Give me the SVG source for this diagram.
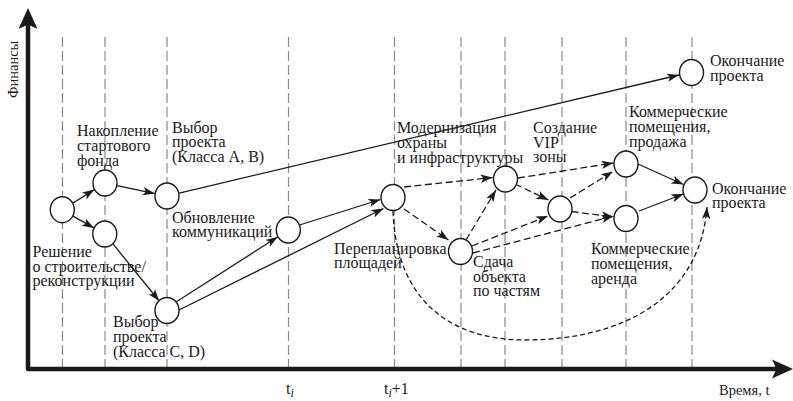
<svg xmlns="http://www.w3.org/2000/svg" width="793" height="401" viewBox="0 0 793 401" font-family="'Liberation Serif', 'Times New Roman', serif">
  <style>
    text { font-family: 'Liberation Serif', 'Times New Roman', serif; font-size: 16px; fill: #1a1a1a; }
    .small { font-size: 14.5px; }
    .grid { stroke: #8a8a8a; stroke-width: 1.2; stroke-dasharray: 10 4; fill: none; }
    .axis { stroke: #1a1a1a; stroke-width: 4.5; fill: none; stroke-linejoin: round; }
    .edge { stroke: #1a1a1a; stroke-width: 1.3; fill: none; marker-end: url(#arrow); }
    .dash { stroke-dasharray: 7 3.5; }
    .curve { stroke-dasharray: 5 3; }
    .node ellipse { fill: #ffffff; stroke: #1a1a1a; stroke-width: 1.4; }
  </style>
  <defs>
    <marker id="arrow" markerUnits="userSpaceOnUse" markerWidth="12" markerHeight="10" viewBox="0 0 12 10" refX="12" refY="5" orient="auto">
      <path d="M0,0.8 L12,5 L0,9.2 L3,5 z" fill="#1a1a1a"/>
    </marker>
  </defs>

  <rect width="793" height="401" fill="#ffffff"/>

  <!-- time grid -->
  <g id="grid">
    <line class="grid" x1="62.5" y1="37" x2="62.5" y2="367"/>
    <line class="grid" x1="105" y1="37" x2="105" y2="367"/>
    <line class="grid" x1="167" y1="37" x2="167" y2="367"/>
    <line class="grid" x1="288.5" y1="37" x2="288.5" y2="367"/>
    <line class="grid" x1="394.5" y1="37" x2="394.5" y2="367"/>
    <line class="grid" x1="461" y1="37" x2="461" y2="367"/>
    <line class="grid" x1="505" y1="37" x2="505" y2="367"/>
    <line class="grid" x1="562" y1="37" x2="562" y2="367"/>
    <line class="grid" x1="626" y1="37" x2="626" y2="367"/>
    <line class="grid" x1="692" y1="37" x2="692" y2="367"/>
  </g>

  <!-- axes -->
  <g id="axes">
    <path class="axis" d="M28,24 L28,369 L778,369"/>
    <path d="M28,8 L37.5,29 L28,24.5 L18.5,29 z" fill="#1a1a1a"/>
    <path d="M793,369 L772,378.5 L776.5,369 L772,359.5 z" fill="#1a1a1a"/>
    <text class="small" transform="translate(17.5,98) rotate(-90)">Финансы</text>
    <text class="small" x="719" y="395">Время, t</text>
    <text x="286" y="394">t<tspan font-style="italic" font-size="12" dy="3">i</tspan></text>
    <text x="384" y="394">t<tspan font-style="italic" font-size="12" dy="3">i</tspan><tspan dy="-3">+1</tspan></text>
  </g>

  <!-- connectors -->
  <g id="connectors">
    <line class="edge" x1="72.6" y1="203.3" x2="94.4" y2="189.6"/>
    <line class="edge" x1="72.9" y1="216.1" x2="94.1" y2="227.9"/>
    <line class="edge" x1="117.2" y1="185.6" x2="154.8" y2="193.6"/>
    <line class="edge" x1="112.8" y1="243.7" x2="159.2" y2="301"/>
    <line class="edge" x1="179.2" y1="193.1" x2="679" y2="75"/>
    <line class="edge" x1="176" y1="302" x2="277.6" y2="237"/>
    <line class="edge" x1="179" y1="310" x2="383.5" y2="208.5"/>
    <line class="edge" x1="299.5" y1="225" x2="380.5" y2="199.5"/>
    <line class="edge dash" x1="404" y1="187" x2="492.5" y2="177.5"/>
    <line class="edge dash" x1="404" y1="209" x2="448.5" y2="240"/>
    <line class="edge dash" x1="466" y1="240" x2="496" y2="190"/>
    <line class="edge dash" x1="472" y1="246" x2="548" y2="216"/>
    <line class="edge dash" x1="473" y1="253" x2="613.5" y2="216"/>
    <line class="edge dash" x1="518" y1="178" x2="613.5" y2="163"/>
    <line class="edge dash" x1="515" y1="184" x2="548.5" y2="200"/>
    <line class="edge dash" x1="570" y1="198" x2="613" y2="171.5"/>
    <line class="edge dash" x1="571.5" y1="211.5" x2="613.5" y2="217"/>
    <line class="edge" x1="638" y1="164" x2="683.5" y2="184.5"/>
    <line class="edge" x1="639" y1="211" x2="683.5" y2="194"/>
    <path class="edge curve" d="M393,211 C396,300 450,340 525,340 C620,340 700,300 707,207"/>
  </g>

  <!-- nodes -->
  <g id="n-decision" class="node">
    <ellipse cx="62.3" cy="209.7" rx="12" ry="13"/>
    <text x="32.5" y="257">Решение</text>
    <text x="32.5" y="271.5">о строительстве/</text>
    <text x="32.5" y="286">реконструкции</text>
  </g>
  <g id="n-fund" class="node">
    <ellipse cx="105" cy="183" rx="12" ry="13"/>
    <text x="77" y="136">Накопление</text>
    <text x="77" y="151">стартового</text>
    <text x="77" y="166">фонда</text>
  </g>
  <g id="n-branch" class="node">
    <ellipse cx="104.8" cy="234" rx="12" ry="13"/>
  </g>
  <g id="n-project-ab" class="node">
    <ellipse cx="167" cy="196" rx="12" ry="13"/>
    <text x="172" y="132.5">Выбор</text>
    <text x="172" y="147">проекта</text>
    <text x="172" y="162">(Класса A, B)</text>
  </g>
  <g id="n-project-cd" class="node">
    <ellipse cx="167" cy="310.5" rx="12" ry="13"/>
    <text x="113" y="327">Выбор</text>
    <text x="113" y="341.5">проекта</text>
    <text x="113" y="356.5">(Класса C, D)</text>
  </g>
  <g id="n-utilities" class="node">
    <ellipse cx="288.3" cy="230" rx="12" ry="13"/>
    <text x="172" y="222.5">Обновление</text>
    <text x="172" y="237">коммуникаций</text>
  </g>
  <g id="n-replanning" class="node">
    <ellipse cx="393" cy="197.5" rx="12" ry="13"/>
    <text x="334" y="254">Перепланировка</text>
    <text x="334" y="268">площадей</text>
  </g>
  <g id="n-handover" class="node">
    <ellipse cx="460.5" cy="251.5" rx="12" ry="13"/>
    <text x="473" y="267">Сдача</text>
    <text x="473" y="281.5">объекта</text>
    <text x="473" y="296">по частям</text>
  </g>
  <g id="n-security" class="node">
    <ellipse cx="505.5" cy="179" rx="12" ry="13"/>
    <text x="397" y="133">Модернизация</text>
    <text x="397" y="148">охраны</text>
    <text x="397" y="162.5">и инфраструктуры</text>
  </g>
  <g id="n-vip" class="node">
    <ellipse cx="560" cy="209" rx="12" ry="13"/>
    <text x="533" y="133">Создание</text>
    <text x="533" y="147.5">VIP</text>
    <text x="533" y="162">зоны</text>
  </g>
  <g id="n-sale" class="node">
    <ellipse cx="626" cy="164" rx="12" ry="13"/>
    <text x="629" y="117">Коммерческие</text>
    <text x="629" y="132">помещения,</text>
    <text x="629" y="147">продажа</text>
  </g>
  <g id="n-lease" class="node">
    <ellipse cx="626" cy="218.5" rx="12" ry="13"/>
    <text x="591" y="254">Коммерческие</text>
    <text x="591" y="269">помещения,</text>
    <text x="591" y="284">аренда</text>
  </g>
  <g id="n-end" class="node">
    <ellipse cx="695" cy="190" rx="12" ry="13"/>
    <text x="712" y="193.5">Окончание</text>
    <text x="712" y="208">проекта</text>
  </g>
  <g id="n-end-top" class="node">
    <ellipse cx="691.5" cy="72.5" rx="12" ry="13"/>
    <text x="710" y="66">Окончание</text>
    <text x="710" y="81">проекта</text>
  </g>
</svg>
